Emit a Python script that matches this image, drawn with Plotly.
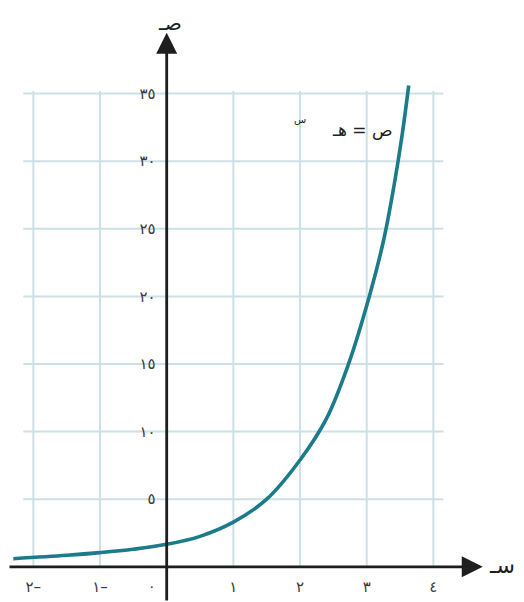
import plotly.graph_objects as go

# ---- data ----
curve_x = [-2.3, -1.5, -1.0, -0.5, 0.0, 0.5, 1.0, 1.5, 2.0, 2.4, 2.72, 3.05, 3.26, 3.41, 3.53, 3.63]
curve_y = [0.6, 0.85, 1.05, 1.3, 1.66, 2.25, 3.3, 5.0, 7.9, 11.0, 14.9, 20.2, 24.3, 28.2, 31.9, 35.6]

x_tick_vals = [-2, -1, 1, 2, 3, 4]
x_tick_text = ["٢–", "١–", "١", "٢", "٣", "٤"]
y_tick_vals = [5, 10, 15, 20, 25, 30, 35]
y_tick_text = ["٥", "١٠", "١٥", "٢٠", "٢٥", "٣٠", "٣٥"]

grid_x = [-2, -1, 1, 2, 3, 4]
grid_y = [5, 10, 15, 20, 25, 30, 35]

# page shows the figure offset by the body margin (8px)
x_range = [-2.380, 5.359]
y_range = [-2.604, 41.33]

axis_color = "#1e1e1e"
grid_color = "#cbe1e5"
curve_color = "#1b7b8a"
tick_color = "#3a3a3a"
font_family = "DejaVu Sans"

fig = go.Figure()
fig.add_trace(go.Scatter(
    x=curve_x, y=curve_y, mode="lines",
    line=dict(color=curve_color, width=3.6, shape="spline", smoothing=1.0),
    hoverinfo="skip", showlegend=False,
))

shapes = []
for gx in grid_x:
    shapes.append(dict(type="line", xref="x", yref="y", x0=gx, x1=gx, y0=0, y1=35.2,
                       line=dict(color=grid_color, width=2), layer="below"))
for gy in grid_y:
    shapes.append(dict(type="line", xref="x", yref="y", x0=-2.15, x1=4.15, y0=gy, y1=gy,
                       line=dict(color=grid_color, width=2), layer="below"))

pos_x0 = (0 - x_range[0]) / (x_range[1] - x_range[0])
pos_y0 = (0 - y_range[0]) / (y_range[1] - y_range[0])

annotations = [
    # y axis with arrow
    dict(x=0, y=39.5, ax=0, ay=y_range[0], xref="x", yref="y", axref="x", ayref="y",
         showarrow=True, arrowhead=2, arrowsize=1.5, arrowwidth=2.8, arrowcolor=axis_color, text=""),
    # x axis with arrow
    dict(x=4.74, y=0, ax=x_range[0], ay=0, xref="x", yref="y", axref="x", ayref="y",
         showarrow=True, arrowhead=2, arrowsize=1.5, arrowwidth=2.8, arrowcolor=axis_color, text=""),
    # axis titles
    dict(x=0, y=39.5, xref="x", yref="y", text="صـ", showarrow=False, yshift=10, xshift=3,
         font=dict(family=font_family, size=20, color=axis_color)),
    dict(x=4.74, y=0, xref="x", yref="y", text="سـ", showarrow=False, xanchor="left", xshift=4, yshift=1,
         font=dict(family=font_family, size=22, color=axis_color)),
    # origin label
    dict(x=0, y=0, xref="x", yref="y", text="٠", showarrow=False, xshift=-15, yshift=-19,
         font=dict(family=font_family, size=14, color=tick_color)),
    # function label
    dict(x=3.42, y=32.3, xref="x", yref="y", text="ص = هـ", showarrow=False, xanchor="right",
         font=dict(family=font_family, size=17, color="#222222")),
    dict(x=2.12, y=33.1, xref="x", yref="y", text="س", showarrow=False, xanchor="right",
         font=dict(family=font_family, size=10, color="#222222")),
]

fig.update_layout(
    width=516, height=594, autosize=False,
    margin=dict(l=0, r=0, t=0, b=0),
    paper_bgcolor="white", plot_bgcolor="white",
    shapes=shapes, annotations=annotations,
    xaxis=dict(range=x_range, anchor="free", position=pos_y0, showgrid=False, zeroline=False,
               showline=False, tickvals=x_tick_vals, ticktext=x_tick_text, ticks="",
               ticklabelstandoff=9, tickfont=dict(family=font_family, size=15, color=tick_color),
               fixedrange=True),
    yaxis=dict(range=y_range, anchor="free", position=pos_x0, showgrid=False, zeroline=False,
               showline=False, tickvals=y_tick_vals, ticktext=y_tick_text, ticks="",
               ticklabelstandoff=11, tickfont=dict(family=font_family, size=15, color=tick_color),
               fixedrange=True),
    showlegend=False,
)

fig.write_html("out.html")
